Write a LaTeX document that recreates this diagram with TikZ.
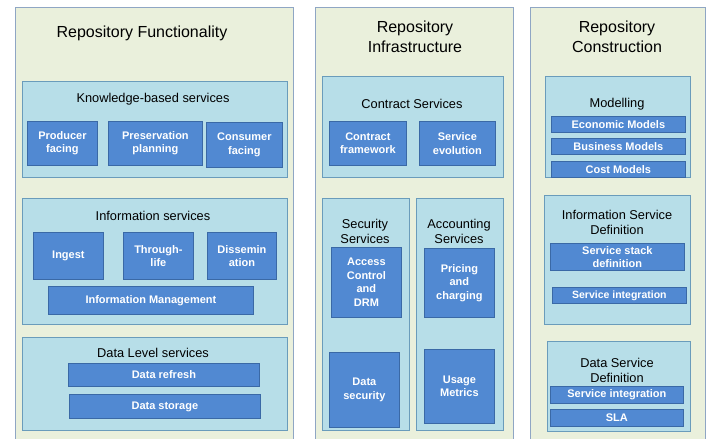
\documentclass[tikz,border=0pt]{standalone}
\usepackage{fontspec}
\setmainfont{Liberation Sans}
\usepackage{tikz}

\definecolor{panelfill}{HTML}{EAF0DC}
\definecolor{paneldraw}{HTML}{8FA6C4}
\definecolor{groupfill}{HTML}{B7DEE8}
\definecolor{groupdraw}{HTML}{6A9CBB}
\definecolor{itemfill}{HTML}{5189D2}
\definecolor{itemdraw}{HTML}{3A69A6}

\tikzset{
    panel/.style={draw=paneldraw, fill=panelfill, line width=0.8pt, anchor=north west, inner sep=0pt},
    group/.style={draw=groupdraw, fill=groupfill, line width=0.8pt, anchor=north west, inner sep=0pt},
    item/.style={draw=itemdraw, fill=itemfill, line width=0.8pt, anchor=north west, inner sep=1pt,
        text=white, font=\bfseries\fontsize{11}{13.5}\selectfont, align=center},
    bigtitle/.style={font=\fontsize{16}{20}\selectfont, align=center},
    grouptitle/.style={font=\fontsize{12.8}{15}\selectfont, align=center}
}

\begin{document}
\begin{tikzpicture}[x=1pt, y=-1pt]
    \useasboundingbox (0,0) rectangle (707,439);

    % Panels
    \node[panel, minimum width=278pt, minimum height=440pt] (func) at (15,7) {};
    \node[panel, minimum width=198pt, minimum height=440pt] (infra) at (315,7) {};
    \node[panel, minimum width=175pt, minimum height=440pt] (constr) at (530,7) {};

    \node[bigtitle] (functitle) at (142,33) {Repository Functionality};
    \node[bigtitle] (infratitle) at (415,37) {Repository\\Infrastructure};
    \node[bigtitle] (constrtitle) at (617,37) {Repository\\Construction};

    % Repository Functionality
    \node[group, minimum width=265pt, minimum height=96pt] (know) at (22,81) {};
    \node[grouptitle] (knowtitle) at (153,99) {Knowledge-based services};
    \node[item, minimum width=70pt, minimum height=44pt] (prod) at (27,121) {Producer\\facing};
    \node[item, minimum width=94pt, minimum height=44pt] (pres) at (108,121) {Preservation\\planning};
    \node[item, minimum width=76pt, minimum height=45pt] (cons) at (206,122) {Consumer\\facing};

    \node[group, minimum width=265pt, minimum height=126pt] (info) at (22,198) {};
    \node[grouptitle] (infotitle) at (153,216) {Information services};
    \node[item, minimum width=70pt, minimum height=47pt] (ingest) at (33,232) {Ingest};
    \node[item, minimum width=70pt, minimum height=47pt] (through) at (123,232) {Through-\\life};
    \node[item, minimum width=69pt, minimum height=47pt] (dissem) at (207,232) {Dissemin\\ation};
    \node[item, minimum width=205pt, minimum height=28pt] (infomgmt) at (48,286) {Information Management};

    \node[group, minimum width=265pt, minimum height=93pt] (data) at (22,337) {};
    \node[grouptitle] (datatitle) at (153,353) {Data Level services};
    \node[item, minimum width=191pt, minimum height=23pt] (refresh) at (68,363) {Data refresh};
    \node[item, minimum width=191pt, minimum height=24pt] (storage) at (69,394) {Data storage};

    % Repository Infrastructure
    \node[group, minimum width=181pt, minimum height=101pt] (contract) at (322,76) {};
    \node[grouptitle] (contracttitle) at (412,104) {Contract Services};
    \node[item, minimum width=77pt, minimum height=44pt] (framework) at (329,121) {Contract\\framework};
    \node[item, minimum width=76pt, minimum height=44pt] (evolution) at (419,121) {Service\\evolution};

    \node[group, minimum width=87pt, minimum height=232pt] (security) at (322,198) {};
    \node[grouptitle] (securitytitle) at (365,231) {Security\\Services};
    \node[item, minimum width=70pt, minimum height=70pt] (access) at (331,247) {Access\\Control\\and\\DRM};
    \node[item, minimum width=70pt, minimum height=75pt] (datasec) at (329,352) {Data\\security};

    \node[group, minimum width=87pt, minimum height=232pt] (account) at (416,198) {};
    \node[grouptitle] (accounttitle) at (459,231) {Accounting\\Services};
    \node[item, minimum width=70pt, minimum height=69pt] (pricing) at (424,248) {Pricing\\and\\charging};
    \node[item, minimum width=70pt, minimum height=74pt] (usage) at (424,349) {Usage\\Metrics};

    % Repository Construction
    \node[group, minimum width=145pt, minimum height=101pt] (model) at (545,76) {};
    \node[grouptitle] (modeltitle) at (617,104) {Modelling};
    \foreach \name/\y/\txt in {econ/116/Economic Models, business/138/Business Models, cost/161/Cost Models}
        \node[item, minimum width=134pt, minimum height=16pt] (\name) at (551,\y) {\txt};

    \node[group, minimum width=146pt, minimum height=129pt] (isd) at (544,195) {};
    \node[grouptitle] (isdtitle) at (617,222) {Information Service\\Definition};
    \node[item, minimum width=134pt, minimum height=27pt] (stack) at (550,243) {Service stack\\definition};
    \node[item, minimum width=134pt, minimum height=16pt, font=\bfseries\fontsize{10.5}{12}\selectfont] (isdinteg) at (552,287) {Service integration};

    \node[group, minimum width=143pt, minimum height=90pt] (dsd) at (547,341) {};
    \node[grouptitle] (dsdtitle) at (617,370) {Data Service\\Definition};
    \node[item, minimum width=133pt, minimum height=17pt] (dsdinteg) at (550,386) {Service integration};
    \node[item, minimum width=133pt, minimum height=17pt] (sla) at (550,409) {SLA};
\end{tikzpicture}
\end{document}
